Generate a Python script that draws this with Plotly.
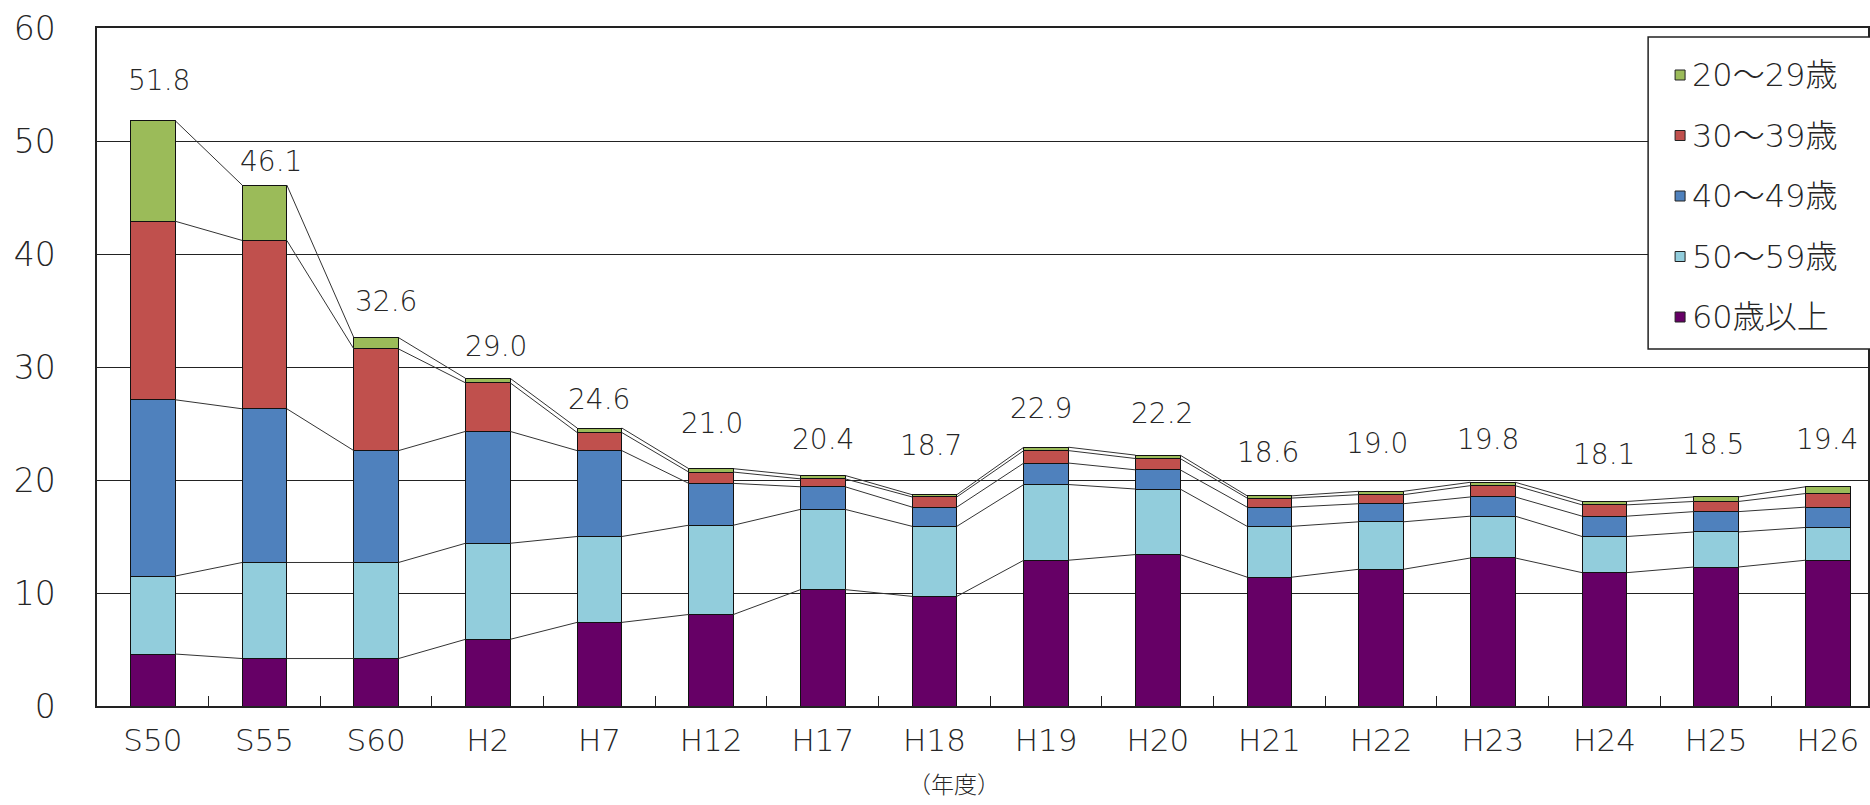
import plotly.graph_objects as go

# ---- data ----
categories = ["S50", "S55", "S60", "H2", "H7", "H12", "H17", "H18", "H19", "H20",
              "H21", "H22", "H23", "H24", "H25", "H26"]
age_60_plus = [4.6, 4.2, 4.2, 5.9, 7.4, 8.1, 10.3, 9.7, 12.9, 13.4, 11.4, 12.1, 13.1, 11.8, 12.3, 12.9]
age_50_59 = [6.9, 8.5, 8.5, 8.5, 7.6, 7.9, 7.1, 6.2, 6.7, 5.8, 4.5, 4.2, 3.7, 3.2, 3.1, 2.9]
age_40_49 = [15.6, 13.6, 9.9, 9.9, 7.6, 3.7, 2.0, 1.7, 1.9, 1.7, 1.7, 1.6, 1.7, 1.8, 1.8, 1.8]
age_30_39 = [15.8, 14.9, 9.0, 4.3, 1.6, 1.0, 0.7, 0.9, 1.1, 1.0, 0.8, 0.8, 1.0, 1.0, 0.9, 1.2]
age_20_29 = [8.9, 4.9, 1.0, 0.4, 0.4, 0.3, 0.3, 0.2, 0.3, 0.3, 0.2, 0.3, 0.3, 0.3, 0.4, 0.6]
totals = [51.8, 46.1, 32.6, 29.0, 24.6, 21.0, 20.4, 18.7, 22.9, 22.2, 18.6, 19.0, 19.8, 18.1, 18.5, 19.4]
series_names = ["60歳以上", "50～59歳", "40～49歳", "30～39歳", "20～29歳"]
y_ticks = [0, 10, 20, 30, 40, 50, 60]

# ---- styles ----
colors = ["#660066", "#92CDDC", "#4F81BD", "#C0504D", "#9BBB59"]
label_dy = [40, 24, 36, 32, 29, 45, 36, 49, 39, 42, 43, 48, 43, 47, 52, 47]   # px above bar top
label_dx = [6, 6, 10, 8, 0, 1, 0, -3, -5, 4, -1, -4, -5, 0, -3, -1]
FONT = "DejaVu Sans, Noto Sans CJK JP, sans-serif"
TXT = "#262626"
BAR_W = 0.4

W, H = 1870, 805
ML, MT, MB = 97, 28, 99
PW = 111.8 * 15.86
PH = H - MT - MB

def px_x(p):
    return (p - ML) / PW

def px_y(p):
    return (H - MB - p) / PH

series = [age_60_plus, age_50_59, age_40_49, age_30_39, age_20_29]
xs = list(range(len(categories)))

fig = go.Figure()
for name, vals, col in zip(series_names, series, colors):
    fig.add_trace(go.Bar(x=xs, y=vals, name=name, width=BAR_W,
                         marker=dict(color=col, line=dict(color="#111111", width=1)),
                         showlegend=False, hoverinfo="y+name"))

# series connector lines between bar segment tops
cum = [0.0] * len(categories)
for vals in series:
    cum = [c + v for c, v in zip(cum, vals)]
    lx, ly = [], []
    for i in range(len(categories) - 1):
        lx += [i + BAR_W / 2, i + 1 - BAR_W / 2, None]
        ly += [cum[i], cum[i + 1], None]
    fig.add_trace(go.Scatter(x=lx, y=ly, mode="lines", line=dict(color="#333333", width=1),
                             showlegend=False, hoverinfo="skip"))

annotations = []
for i, t in enumerate(totals):
    annotations.append(dict(x=i, y=t, xref="x", yref="y", text=f"{t:.1f}", showarrow=False,
                            xanchor="center", yanchor="middle", yshift=label_dy[i], xshift=label_dx[i],
                            font=dict(family=FONT, size=28, color=TXT, weight=300)))

# manual legend
shapes = [dict(type="rect", xref="paper", yref="paper",
               x0=px_x(1650), x1=px_x(1885), y0=px_y(349), y1=px_y(37),
               line=dict(color="#222222", width=1.5), fillcolor="white", layer="above")]
leg_order = list(range(len(series_names)))[::-1]
for k, si in enumerate(leg_order):
    cy = 75 + 60.5 * k
    shapes.append(dict(type="rect", xref="paper", yref="paper",
                       x0=px_x(1677), x1=px_x(1687), y0=px_y(cy + 5), y1=px_y(cy - 5),
                       line=dict(color="#222222", width=1), fillcolor=colors[si], layer="above"))
    annotations.append(dict(x=px_x(1692), y=px_y(cy), xref="paper", yref="paper",
                            text=series_names[si], showarrow=False, xanchor="left", yanchor="middle",
                            font=dict(family=FONT, size=32, color=TXT, weight=300)))

annotations.append(dict(x=px_x(955), y=px_y(783), xref="paper", yref="paper", text="（年度）",
                        showarrow=False, xanchor="center", yanchor="middle",
                        font=dict(family="Noto Sans CJK JP", size=23, color=TXT, weight=300)))

fig.update_layout(
    width=W, height=H, barmode="stack",
    margin=dict(l=ML, r=0, t=MT, b=MB, pad=0),
    paper_bgcolor="white", plot_bgcolor="white",
    annotations=annotations, shapes=shapes,
    xaxis=dict(range=[-0.5, 15.36], tickmode="array", tickvals=xs, ticktext=categories,
               ticks="", showgrid=False, zeroline=False,
               showline=True, linecolor="#222222", linewidth=1.5, mirror=True,
               tickfont=dict(family=FONT, size=31, color=TXT, weight=300), ticklabelstandoff=6,
               minor=dict(tickmode="array", tickvals=[i + 0.5 for i in xs[:-1]],
                          ticks="inside", ticklen=10, tickcolor="#222222", tickwidth=1, showgrid=False)),
    yaxis=dict(range=[0, 60], tickmode="array", tickvals=y_ticks, ticks="",
               showgrid=True, gridcolor="#222222", gridwidth=1.3, zeroline=False,
               showline=True, linecolor="#222222", linewidth=1.5, mirror=True,
               tickfont=dict(family=FONT, size=33, color=TXT, weight=300), ticklabelstandoff=33),
)

fig.write_html("out.html",
               config={"displayModeBar": False},
               post_script="document.body.style.margin='0px';"
                           "document.documentElement.style.overflow='hidden';")
